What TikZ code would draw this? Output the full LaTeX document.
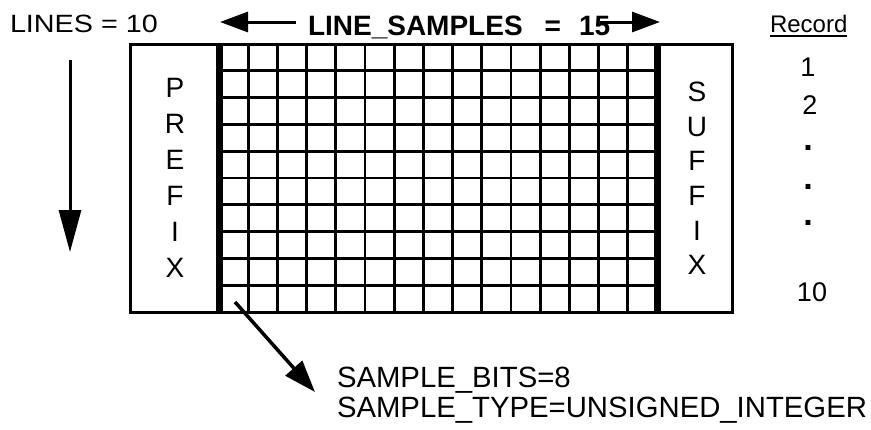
\documentclass[tikz,border=0pt]{standalone}
\usepackage{fontspec}
\setmainfont{Liberation Sans}
\usetikzlibrary{arrows.meta}
\newcommand{\fsz}[1]{\fontsize{#1pt}{#1pt}\selectfont}
\begin{document}
\begin{tikzpicture}[x=1pt,y=-1pt,
  lbl/.style={inner sep=0pt,outer sep=0pt},
  letter/.style={lbl,font=\fsz{28}},
  recnum/.style={lbl,font=\fsz{27}},
  recdot/.style={lbl,font=\fsz{34}\bfseries},
  bottomtxt/.style={lbl,anchor=base west,font=\fsz{29.3}},
  arr/.style={line width=3pt,-{Triangle[length=28pt,width=20pt]}},
  gridline/.style={line width=2.7pt},
  sepline/.style={line width=7pt},
  framebox/.style={draw,line width=3pt,inner sep=0pt,minimum width=602pt,minimum height=268pt}]
\useasboundingbox (0,0) rectangle (871,429);
% grid
\foreach \i in {1,...,14} \draw[gridline] ({219+\i*29.2},44) -- ({219+\i*29.2},312);
\foreach \j in {1,...,9} \draw[gridline] (219,{44+\j*26.8}) -- (657,{44+\j*26.8});
\node[framebox] (frame) at (431,178) {};
\draw[sepline] (219,44) -- (219,312);
\draw[sepline] (657,44) -- (657,312);
% prefix / suffix
\foreach \L [count=\k] in {P,R,E,F,I,X}
  \node[letter] (p\k) at (175,{88+(\k-1)*36}) {\L};
\foreach \L [count=\k] in {S,U,F,F,I,X}
  \node[letter] (s\k) at (697,{92+(\k-1)*34.6}) {\L};
% top labels
\node[lbl,anchor=base west,font=\fsz{25}] (lines) at (10,32) {\scalebox{1.15}[1]{LINES = 10}};
\node[lbl,anchor=base west,font=\fsz{28}\bfseries] (ls) at (308,35) {LINE\_SAMPLES\hspace{22pt}=\hspace{18pt}15};
\coordinate (las) at (296,22);
\coordinate (lae) at (220,22);
\coordinate (ras) at (600,22);
\coordinate (rae) at (660,22);
\draw[arr] (las) -- (lae);
\draw[arr] (ras) -- (rae);
% vertical arrow
\coordinate (vs) at (70,60);
\coordinate (ve) at (70,252);
\draw[line width=3pt,-{Triangle[length=42pt,width=22pt]}] (vs) -- (ve);
% record column
\node[lbl,anchor=base west,font=\fsz{24}] (rec) at (770,32) {Record};
\draw[line width=1.5pt] ([yshift=-4pt]rec.base west) -- ([yshift=-4pt]rec.base east);
\node[recnum] (r1) at (808,67) {1};
\node[recnum] (r2) at (810,105) {2};
\node[recdot] (d1) at (808,148) {.};
\node[recdot] (d2) at (808,187) {.};
\node[recdot] (d3) at (808,223) {.};
\node[recnum] (r10) at (812,292) {10};
% diagonal arrow and sample text
\coordinate (ds) at (235,302);
\coordinate (de) at (315,392);
\draw[line width=3.5pt,-{Triangle[length=32pt,width=22pt]}] (ds) -- (de);
\node[bottomtxt] (sb) at (337,387) {SAMPLE\_BITS=8};
\node[bottomtxt] (st) at (337,417) {SAMPLE\_TYPE=UNSIGNED\_INTEGER};
\end{tikzpicture}
\end{document}
